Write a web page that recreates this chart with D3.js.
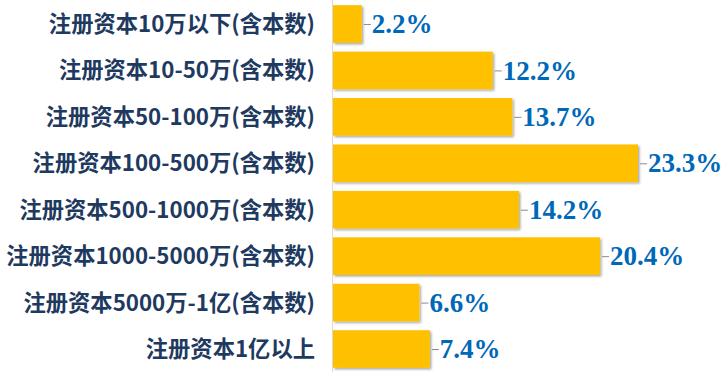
<!DOCTYPE html>
<html>
<head>
<meta charset="utf-8">
<script src="https://cdn.jsdelivr.net/npm/d3@7"></script>
<style>
  body { margin: 0; background: #fff; }
  .cat { font-family: "Noto Sans CJK SC", "Noto Sans", sans-serif; font-weight: bold; font-size: 22.3px; fill: #1f3a60; }
  .val { font-family: "Liberation Serif", "DejaVu Serif", serif; font-weight: bold; font-size: 27px; fill: #0068b8; }
</style>
</head>
<body>
<div id="chart"></div>
<script>
var categories = [
  "注册资本10万以下(含本数)",
  "注册资本10-50万(含本数)",
  "注册资本50-100万(含本数)",
  "注册资本100-500万(含本数)",
  "注册资本500-1000万(含本数)",
  "注册资本1000-5000万(含本数)",
  "注册资本5000万-1亿(含本数)",
  "注册资本1亿以上"
];
var values = [2.2, 12.2, 13.7, 23.3, 14.2, 20.4, 6.6, 7.4];

var svgWidth = 728;
var svgHeight = 375;
var axisX = 333;

var svg = d3.select("#chart")
  .append("svg")
  .attr("width", svgWidth)
  .attr("height", svgHeight);

// drop shadow for bars
var defs = svg.append("defs");
var filter = defs.append("filter")
  .attr("id", "shadow")
  .attr("x", "-10%").attr("y", "-10%")
  .attr("width", "130%").attr("height", "140%");
filter.append("feDropShadow")
  .attr("dx", 1.5).attr("dy", 1.5)
  .attr("stdDeviation", 1)
  .attr("flood-color", "#000")
  .attr("flood-opacity", 0.35);

var xScale = d3.scaleLinear()
  .domain([0, 23.3])
  .range([axisX, 638]);

var yScale = d3.scaleBand()
  .domain(categories)
  .range([1, 372])
  .paddingInner(0.19)
  .paddingOuter(0.09);

// bars
svg.selectAll("rect.bar")
  .data(values)
  .enter()
  .append("rect")
  .attr("class", "bar")
  .attr("x", xScale(0))
  .attr("y", (d, i) => yScale(categories[i]))
  .attr("width", d => xScale(d) - xScale(0))
  .attr("height", yScale.bandwidth())
  .attr("fill", "#ffc000")
  .attr("filter", "url(#shadow)");

// vertical axis line
svg.append("line")
  .attr("x1", axisX - 0.5).attr("x2", axisX - 0.5)
  .attr("y1", 0).attr("y2", 372)
  .attr("stroke", "#d9d9d9")
  .attr("stroke-width", 1);

// category labels
svg.selectAll("text.cat")
  .data(categories)
  .enter()
  .append("text")
  .attr("class", "cat")
  .attr("x", 315)
  .attr("y", d => yScale(d) + yScale.bandwidth() / 2)
  .attr("dy", "0.36em")
  .attr("text-anchor", "end")
  .text(d => d);

// leader lines
svg.selectAll("line.lead")
  .data(values)
  .enter()
  .append("line")
  .attr("class", "lead")
  .attr("x1", d => xScale(d) + 2)
  .attr("x2", d => xScale(d) + 9)
  .attr("y1", (d, i) => yScale(categories[i]) + yScale.bandwidth() / 2 + 0.5)
  .attr("y2", (d, i) => yScale(categories[i]) + yScale.bandwidth() / 2 + 0.5)
  .attr("stroke", "#8c8c8c")
  .attr("stroke-width", 1);

// value labels
svg.selectAll("text.val")
  .data(values)
  .enter()
  .append("text")
  .attr("class", "val")
  .attr("x", d => xScale(d) + 10)
  .attr("y", (d, i) => yScale(categories[i]) + yScale.bandwidth() / 2)
  .attr("dy", "0.34em")
  .text(d => d.toFixed(1) + "%");
</script>
</body>
</html>
